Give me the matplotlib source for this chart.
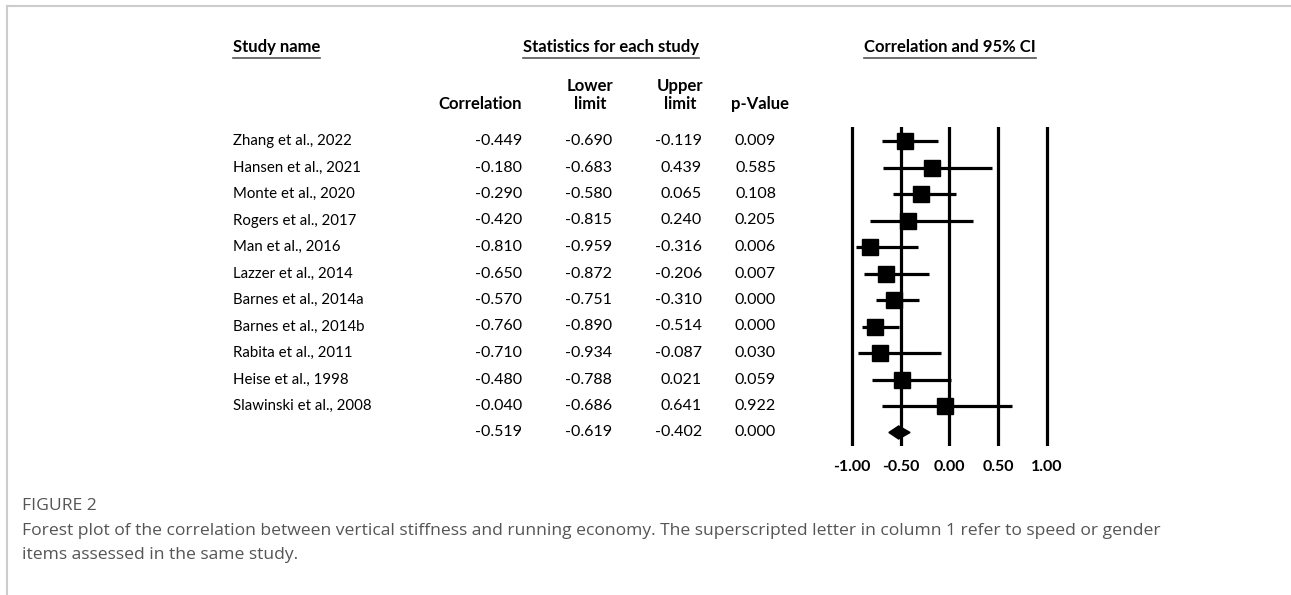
import matplotlib
matplotlib.use("Agg")
import matplotlib.pyplot as plt
import matplotlib.transforms as mtransforms
from matplotlib.lines import Line2D

# Data

studies = ["Zhang et al., 2022", "Hansen et al., 2021", "Monte et al., 2020",
           "Rogers et al., 2017", "Man et al., 2016", "Lazzer et al., 2014",
           "Barnes et al., 2014a", "Barnes et al., 2014b", "Rabita et al., 2011",
           "Heise et al., 1998", "Slawinski et al., 2008"]
corr = [-0.449, -0.180, -0.290, -0.420, -0.810, -0.650, -0.570, -0.760, -0.710, -0.480, -0.040]
lower = [-0.690, -0.683, -0.580, -0.815, -0.959, -0.872, -0.751, -0.890, -0.934, -0.788, -0.686]
upper = [-0.119, 0.439, 0.065, 0.240, -0.316, -0.206, -0.310, -0.514, -0.087, 0.021, 0.641]
pvals = [0.009, 0.585, 0.108, 0.205, 0.006, 0.007, 0.000, 0.000, 0.030, 0.059, 0.922]

summary_corr = -0.519
summary_lower = -0.619
summary_upper = -0.402
summary_p = 0.000

ticks = [-1.0, -0.5, 0.0, 0.5, 1.0]

#-------------------------
W, H = 1291, 595
fig = plt.figure(figsize=(W / 100, H / 100), dpi=100)

FONT = "Lato"
fs_name = 10.8
fs_num = 11.5
fs_head = 12

def fx(px):
    return px / W

def fy(py):
    return 1 - py / H

# forest axes: -1 -> 852 px, 1 -> 1047 px ; rows 141 + 26.5*i
x0, scale = 949.3, 97.6
xl, xr = -1.1, 1.1
row0, step = 141, 26.5
ytop, ybot = (127 - row0) / step, (446 - row0) / step
left_px = x0 + xl * scale
width_px = (xr - xl) * scale
ax = fig.add_axes([fx(left_px), fy(446), fx(width_px), (446 - 127) / H])
ax.set_xlim(xl, xr)
ax.set_ylim(ybot, ytop)
for s in ax.spines.values():
    s.set_visible(False)
ax.set_yticks([])
ax.set_xticks(ticks)
ax.set_xticklabels([f"{t:.2f}" for t in ticks], fontfamily=FONT, fontweight="bold", fontsize=fs_num)
ax.tick_params(axis="x", length=0, pad=10)

lw = 2.3
for t in ticks:
    ax.axvline(t, color="black", lw=lw, zorder=1)

n = len(studies)
rows = list(range(n))
ax.hlines(rows, lower, upper, color="black", lw=lw, zorder=2)
ax.plot(corr, rows, "s", color="black", markersize=11.5, zorder=3)

# summary diamond
ys = n
hh = 6.5 / step
ax.fill([summary_lower, summary_corr, summary_upper, summary_corr],
        [ys, ys - hh, ys, ys + hh], color="black", zorder=3)

#-------------------------
# table text
tr = mtransforms.blended_transform_factory(fig.transFigure, ax.transData)
tkw = dict(fontfamily=FONT, va="center", color="black", transform=tr)

col_right = [fx(522), fx(612), fx(702), fx(776)]
for i in range(n):
    ax.text(fx(233), i, studies[i], ha="left", fontsize=fs_name, **tkw)
    vals = [f"{corr[i]:.3f}", f"{lower[i]:.3f}", f"{upper[i]:.3f}", f"{pvals[i]:.3f}"]
    for c, v in zip(col_right, vals):
        ax.text(c, i, v, ha="right", fontsize=fs_num, **tkw)
svals = [f"{summary_corr:.3f}", f"{summary_lower:.3f}", f"{summary_upper:.3f}", f"{summary_p:.3f}"]
for c, v in zip(col_right, svals):
    ax.text(c, n, v, ha="right", fontsize=fs_num, **tkw)

# headers
hkw = dict(fontfamily=FONT, fontsize=fs_head, fontweight="bold", va="center", color="black")
h1 = fig.text(fx(233), fy(47), "Study name", ha="left", **hkw)
h2 = fig.text(fx(611), fy(47), "Statistics for each study", ha="center", **hkw)
h3 = fig.text(fx(950), fy(47), "Correlation and 95% CI", ha="center", **hkw)

fig.text(fx(522), fy(104), "Correlation", ha="right", **hkw)
fig.text(fx(590), fy(86), "Lower", ha="center", **hkw)
fig.text(fx(590), fy(104), "limit", ha="center", **hkw)
fig.text(fx(680), fy(86), "Upper", ha="center", **hkw)
fig.text(fx(680), fy(104), "limit", ha="center", **hkw)
fig.text(fx(789), fy(104), "p-Value", ha="right", **hkw)

# underline headers
fig.canvas.draw()
rend = fig.canvas.get_renderer()
for h in (h1, h2, h3):
    bb = h.get_window_extent(rend)
    fig.add_artist(Line2D([bb.x0 / W, bb.x1 / W], [fy(58), fy(58)],
                          color="#555555", lw=1.2, transform=fig.transFigure))

# frame lines
fig.add_artist(Line2D([fx(7), 1], [fy(6), fy(6)], color="#cccccc", lw=1.5, transform=fig.transFigure))
fig.add_artist(Line2D([fx(7), fx(7)], [fy(6), 0], color="#cccccc", lw=1.5, transform=fig.transFigure))

# caption
ckw = dict(fontfamily="Open Sans", fontsize=12.6, color="#555555", va="center", ha="left")
fig.text(fx(22), fy(506), "FIGURE 2", **ckw)
fig.text(fx(22), fy(531), "Forest plot of the correlation between vertical stiffness and running economy. "
         "The superscripted letter in column 1 refer to speed or gender", **ckw)
fig.text(fx(22), fy(555), "items assessed in the same study.", **ckw)

fig.savefig("out.png", dpi=100)
